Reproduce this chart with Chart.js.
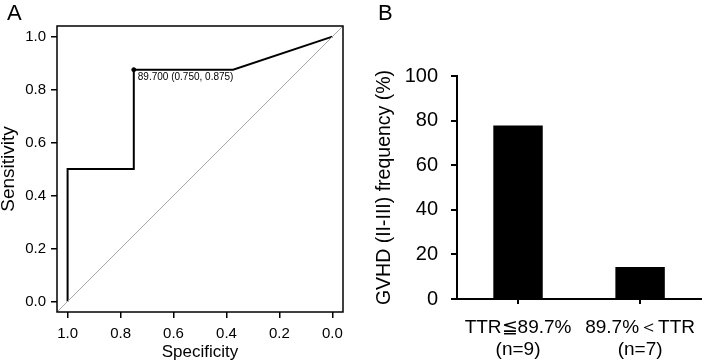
<!DOCTYPE html>
<html>
<head>
<meta charset="utf-8">
<script src="https://cdn.jsdelivr.net/npm/chart.js@4/dist/chart.umd.min.js"></script>
<style>
  body { margin:0; background:#fff; }
  #wrap { position:relative; width:708px; height:364px; font-family:"Liberation Sans", Arial, sans-serif; }
  canvas { position:absolute; top:0; }
  .tag { position:absolute; font-size:22px; color:#000; }
</style>
</head>
<body>
<div id="wrap">
  <canvas id="rocChart" width="360" height="364" style="left:0"></canvas>
  <canvas id="barChart" width="348" height="364" style="left:360px"></canvas>
  <div class="tag" style="left:7px; top:0px">A</div>
  <div class="tag" style="left:378px; top:0px">B</div>
</div>
<script>
/* ==== Data ==== */
// ROC curve (specificity axis runs 1 -> 0)
const rocSpecificity = [1.0, 1.0, 0.75, 0.75, 0.375, 0.0];
const rocSensitivity = [0.0, 0.5, 0.5, 0.875, 0.875, 1.0];
const chanceSpec = [1.04, -0.04];
const chanceSens = [-0.04, 1.04];
const bestSpec = [0.75];
const bestSens = [0.875];
const bestLabel = '89.700 (0.750, 0.875)';
const rocTicks = [0, 0.2, 0.4, 0.6, 0.8, 1.0];

// GVHD frequency by TTR group
const groups = [['TTR\u226689.7%', '(n=9)'], ['89.7%\uFF1CTTR', '(n=7)']];
const gvhdFreq = [77.8, 14.3];
const freqTicks = [0, 20, 40, 60, 80, 100];

const FONT = '"Liberation Sans", Arial, sans-serif';
Chart.defaults.font.family = FONT;
Chart.defaults.color = '#000';

const toXY = (xs, ys) => xs.map((x, i) => ({x, y: ys[i]}));

/* ==== Panel A: ROC ==== */
const boxPlugin = {
  id: 'box',
  afterDatasetsDraw(chart){
    const {ctx, chartArea:a} = chart;
    ctx.save();
    ctx.strokeStyle = '#000';
    ctx.lineWidth = 1.5;
    ctx.strokeRect(a.left, a.top, a.right - a.left, a.bottom - a.top);
    // cutoff label next to the best point
    const pt = chart.getDatasetMeta(2).data[0];
    ctx.font = '10px ' + FONT;
    ctx.fillStyle = '#000';
    ctx.textBaseline = 'middle';
    ctx.fillText(bestLabel, pt.x + 4, pt.y + 8);
    ctx.restore();
  }
};

new Chart(document.getElementById('rocChart'), {
  type: 'line',
  data: {
    datasets: [
      { data: toXY(chanceSpec, chanceSens), borderColor:'#a8a8a8', borderWidth:1, pointRadius:0 },
      { data: toXY(rocSpecificity, rocSensitivity), borderColor:'#000', borderWidth:2, pointRadius:0 },
      { data: toXY(bestSpec, bestSens), showLine:false, pointRadius:2, pointBackgroundColor:'#000', pointBorderColor:'#000' }
    ]
  },
  options: {
    responsive:false, animation:false,
    layout:{ padding:{ top:26, right:17, left:0, bottom:0 } },
    plugins:{ legend:{display:false}, tooltip:{enabled:false} },
    scales:{
      x:{
        type:'linear', reverse:true, min:-0.04, max:1.04,
        afterBuildTicks: s => { s.ticks = rocTicks.map(v => ({value:v})); },
        afterFit: s => { s.height = 52; },
        grid:{ drawOnChartArea:false, color:'#000', tickLength:6, lineWidth:1.5 },
        border:{ display:false },
        ticks:{ font:{size:15}, padding:7, maxRotation:0, callback: v => v.toFixed(1) },
        title:{ display:true, text:'Specificity', font:{size:17}, padding:{top:0, bottom:1} }
      },
      y:{
        min:-0.04, max:1.04,
        afterBuildTicks: s => { s.ticks = rocTicks.map(v => ({value:v})); },
        afterFit: s => { s.width = 57; },
        grid:{ drawOnChartArea:false, color:'#000', tickLength:6, lineWidth:1.5 },
        border:{ display:false },
        ticks:{ font:{size:15}, padding:5, callback: v => v.toFixed(1) },
        title:{ display:true, text:'Sensitivity', font:{size:19}, padding:{top:-3, bottom:0} }
      }
    }
  },
  plugins:[boxPlugin]
});

/* ==== Panel B: bar chart ==== */
new Chart(document.getElementById('barChart'), {
  type: 'bar',
  data: {
    labels: groups,
    datasets: [{ data: gvhdFreq, backgroundColor:'#000', categoryPercentage:1, barPercentage:0.405 }]
  },
  options: {
    responsive:false, animation:false,
    layout:{ padding:{ top:76, right:4, left:0, bottom:0 } },
    plugins:{ legend:{display:false}, tooltip:{enabled:false} },
    scales:{
      x:{
        afterFit: s => { s.height = 65; },
        grid:{ drawOnChartArea:false, offset:false, color:'#000', tickLength:5, lineWidth:2 },
        border:{ color:'#000', width:2 },
        ticks:{ font:{size:19, lineHeight:1.2}, padding:12, maxRotation:0 }
      },
      y:{
        min:0, max:100,
        afterBuildTicks: s => { s.ticks = freqTicks.map(v => ({value:v})); },
        afterFit: s => { s.width = 97; },
        grid:{ drawOnChartArea:false, color:'#000', tickLength:6, lineWidth:2 },
        border:{ color:'#000', width:2 },
        ticks:{ font:{size:20}, padding:13 },
        title:{ display:true, text:'GVHD (II-III) frequency (%)', font:{size:19.5}, padding:{top:13, bottom:0} }
      }
    }
  }
});
</script>
</body>
</html>
